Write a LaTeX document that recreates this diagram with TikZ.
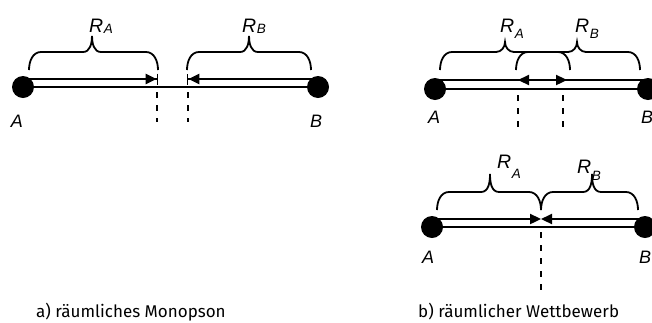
\documentclass[tikz,border=0pt]{standalone}
\usepackage{fontspec}
\setmainfont{Fira Sans}
\newfontfamily\labfont{Liberation Sans}
\usetikzlibrary{arrows.meta}
\tikzset{
  dot/.style={circle,fill=black,inner sep=0pt,minimum size=22pt},
  baseline/.style={line width=2.3pt},
  arrbar/.style={line width=2.3pt,-{Triangle[length=11pt,width=10pt]Bar[width=11pt,line width=1.4pt]}},
  arr/.style={line width=2.3pt,-{Triangle[length=11pt,width=10pt]}},
  dashline/.style={line width=1.7pt,dash pattern=on 6pt off 7pt},
  bracel/.style={line width=1.8pt},
  ptlab/.style={font=\labfont\itshape\fontsize{18}{18}\selectfont,inner sep=0pt},
  rlab/.style={font=\labfont\itshape\fontsize{19.5}{19.5}\selectfont,inner sep=0pt,anchor=base west},
  caplab/.style={font=\fontsize{17}{18}\selectfont,inner sep=0pt,anchor=base west}
}
\newcommand\mybrace[6]{% x1 x2 xm yb yh yt
  \draw[bracel] (#1,#4) to[out=90,in=180] (#1+12,#5) -- (#3-9,#5)
    to[out=0,in=-90] (#3,#6) to[out=-90,in=180] (#3+9,#5) -- (#2-12,#5)
    to[out=0,in=90] (#2,#4);}
\newcommand\Rlab[4]{% x y sub drop
  \node[rlab] at (#1,#2) {R\kern0.5pt\raisebox{-#4pt}{\fontsize{13.5}{13.5}\selectfont #3}};}
\begin{document}
\begin{tikzpicture}[x=1pt,y=-1pt]
\useasboundingbox (0,0) rectangle (652,322);
% ---------- panel a ----------
\node[dot] (aA) at (23,87) {};
\node[dot] (aB) at (318,87) {};
\draw[baseline] (aA) -- (aB);
\coordinate (aAu) at (23,79);
\coordinate (aBu) at (318,79);
\coordinate (aTA) at (158,79);
\coordinate (aTB) at (187,79);
\draw[arrbar] (aAu) -- (aTA);
\draw[arrbar] (aBu) -- (aTB);
\coordinate (ad1s) at (157,92); \coordinate (ad1e) at (157,122);
\coordinate (ad2s) at (188,92); \coordinate (ad2e) at (188,122);
\draw[dashline] (ad1s) -- (ad1e);
\draw[dashline] (ad2s) -- (ad2e);
\mybrace{29}{158}{92}{70}{52}{36}
\mybrace{187}{311}{249}{70}{52}{36}
\Rlab{89}{32}{A}{1}
\Rlab{242}{32}{B}{1}
\node[ptlab] (aLA) at (17,121) {A};
\node[ptlab] (aLB) at (316,121) {B};
% ---------- panel b top ----------
\node[dot] (bA) at (435,89) {};
\node[dot] (bB) at (648,89) {};
\draw[baseline] (bA) -- (bB);
\coordinate (bAu) at (435,80);
\coordinate (bBu) at (648,80);
\coordinate (bTA) at (567,80);
\coordinate (bTB) at (518,80);
\draw[arr] (bAu) -- (bTA);
\draw[arr] (bBu) -- (bTB);
\coordinate (bd1s) at (518,95); \coordinate (bd1e) at (518,128);
\coordinate (bd2s) at (563,95); \coordinate (bd2e) at (563,128);
\draw[dashline] (bd1s) -- (bd1e);
\draw[dashline] (bd2s) -- (bd2e);
\mybrace{440}{570}{505}{70}{52}{42}
\mybrace{516}{640}{577}{70}{52}{42}
\Rlab{500}{32}{A}{6}
\Rlab{575}{32}{B}{6}
\node[ptlab] (bLA) at (434,117) {A};
\node[ptlab] (bLB) at (647,117) {B};
% ---------- panel b bottom ----------
\node[dot] (cA) at (432,227) {};
\node[dot] (cB) at (645,227) {};
\draw[baseline] (cA) -- (cB);
\coordinate (cAu) at (432,219);
\coordinate (cBu) at (645,219);
\coordinate (cT) at (541,219);
\draw[arr] (cAu) -- (cT);
\draw[arr] (cBu) -- (cT);
\coordinate (cds) at (541,232); \coordinate (cde) at (541,290);
\draw[dashline] (cds) -- (cde);
\mybrace{437}{541}{490}{210}{192}{174}
\mybrace{541}{638}{592}{210}{192}{174}
\Rlab{497}{168}{A}{10}
\Rlab{577}{173}{B}{7}
\node[ptlab] (cLA) at (428,257) {A};
\node[ptlab] (cLB) at (645,257) {B};
% ---------- captions ----------
\node[caplab] (capa) at (36,317) {a) räumliches Monopson};
\node[caplab] (capb) at (418,317) {b) räumlicher Wettbewerb};
\end{tikzpicture}
\end{document}
